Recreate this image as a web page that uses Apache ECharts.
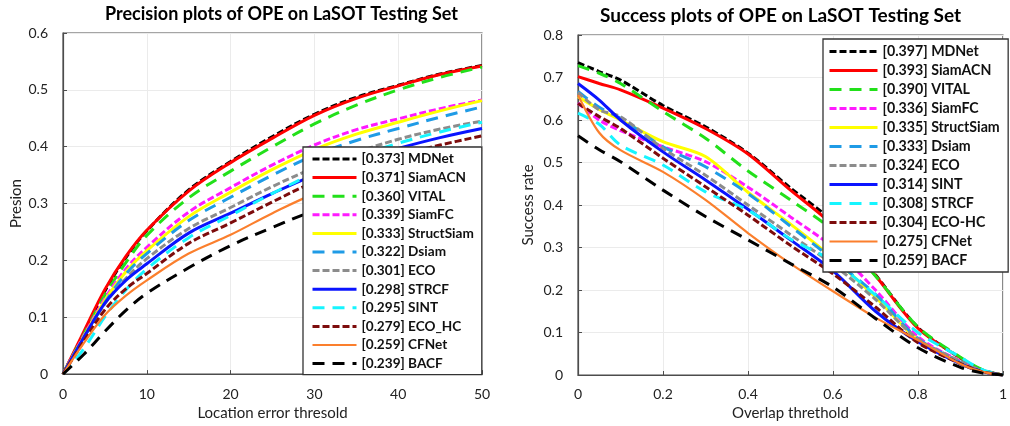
<!DOCTYPE html>
<html>
<head>
<meta charset="utf-8">
<script src="https://cdn.jsdelivr.net/npm/echarts@6/dist/echarts.min.js"></script>
<style>
html,body{margin:0;padding:0;background:#fff;}
#main{width:1010px;height:426px;}
</style>
</head>
<body>
<div id="main"></div>
<script>
// ---------- DATA ----------
var precisionX = [0, 2.5, 5, 7.5, 10, 15, 20, 25, 30, 35, 40, 45, 50];
var precisionXTicks = [0, 10, 20, 30, 40, 50];
var precisionYTicks = [0, 0.1, 0.2, 0.3, 0.4, 0.5, 0.6];

var precNames = ['MDNet', 'SiamACN', 'VITAL', 'SiamFC', 'StructSiam', 'Dsiam', 'ECO', 'STRCF', 'SINT', 'ECO_HC', 'CFNet', 'BACF'];
var precScores = ['0.373', '0.371', '0.360', '0.339', '0.333', '0.322', '0.301', '0.298', '0.295', '0.279', '0.259', '0.239'];

var precMDNet      = [0, 0.072, 0.146, 0.205, 0.252, 0.324, 0.374, 0.418, 0.457, 0.487, 0.508, 0.528, 0.543];
var precSiamACN    = [0, 0.075, 0.149, 0.207, 0.253, 0.322, 0.372, 0.415, 0.455, 0.485, 0.507, 0.527, 0.542];
var precVITAL      = [0, 0.070, 0.139, 0.196, 0.244, 0.310, 0.357, 0.400, 0.440, 0.473, 0.500, 0.522, 0.540];
var precSiamFC     = [0, 0.068, 0.133, 0.185, 0.223, 0.285, 0.328, 0.368, 0.403, 0.430, 0.449, 0.467, 0.482];
var precStructSiam = [0, 0.066, 0.130, 0.180, 0.217, 0.277, 0.320, 0.360, 0.395, 0.422, 0.443, 0.463, 0.481];
var precDsiam      = [0, 0.064, 0.126, 0.176, 0.212, 0.270, 0.311, 0.350, 0.385, 0.411, 0.432, 0.452, 0.470];
var precECO        = [0, 0.063, 0.124, 0.168, 0.203, 0.256, 0.293, 0.330, 0.363, 0.390, 0.413, 0.431, 0.445];
var precSTRCF      = [0, 0.065, 0.125, 0.165, 0.194, 0.248, 0.283, 0.318, 0.350, 0.376, 0.397, 0.416, 0.432];
var precSINT       = [0, 0.045, 0.101, 0.148, 0.185, 0.240, 0.279, 0.318, 0.353, 0.382, 0.406, 0.426, 0.443];
var precECO_HC     = [0, 0.058, 0.113, 0.150, 0.177, 0.230, 0.266, 0.303, 0.338, 0.364, 0.385, 0.403, 0.419];
var precCFNet      = [0, 0.055, 0.104, 0.138, 0.165, 0.212, 0.245, 0.283, 0.317, 0.340, 0.360, 0.379, 0.395];
var precBACF       = [0, 0.035, 0.075, 0.112, 0.142, 0.187, 0.226, 0.258, 0.287, 0.306, 0.322, 0.337, 0.350];

var successX = [0, 0.05, 0.1, 0.2, 0.3, 0.4, 0.5, 0.6, 0.7, 0.8, 0.9, 0.95, 1];
var successXTicks = [0, 0.2, 0.4, 0.6, 0.8, 1];
var successYTicks = [0, 0.1, 0.2, 0.3, 0.4, 0.5, 0.6, 0.7, 0.8];

var succNames = ['MDNet', 'SiamACN', 'VITAL', 'SiamFC', 'StructSiam', 'Dsiam', 'ECO', 'SINT', 'STRCF', 'ECO-HC', 'CFNet', 'BACF'];
var succScores = ['0.397', '0.393', '0.390', '0.336', '0.335', '0.333', '0.324', '0.314', '0.308', '0.304', '0.275', '0.259'];

var succMDNet      = [0.735, 0.714, 0.694, 0.634, 0.584, 0.522, 0.440, 0.360, 0.236, 0.112, 0.040, 0.012, 0];
var succSiamACN    = [0.702, 0.686, 0.671, 0.628, 0.580, 0.520, 0.435, 0.352, 0.234, 0.110, 0.040, 0.012, 0];
var succVITAL      = [0.728, 0.710, 0.686, 0.620, 0.557, 0.480, 0.412, 0.340, 0.233, 0.113, 0.042, 0.013, 0];
var succSiamFC     = [0.640, 0.600, 0.575, 0.537, 0.502, 0.442, 0.372, 0.300, 0.200, 0.090, 0.032, 0.010, 0];
var succStructSiam = [0.655, 0.625, 0.600, 0.549, 0.514, 0.430, 0.355, 0.275, 0.183, 0.083, 0.028, 0.009, 0];
var succDsiam      = [0.667, 0.630, 0.604, 0.537, 0.490, 0.427, 0.350, 0.272, 0.190, 0.086, 0.030, 0.010, 0];
var succECO        = [0.665, 0.624, 0.608, 0.533, 0.470, 0.400, 0.330, 0.260, 0.178, 0.085, 0.032, 0.010, 0];
var succSINT       = [0.686, 0.647, 0.600, 0.525, 0.459, 0.390, 0.318, 0.245, 0.150, 0.078, 0.026, 0.008, 0];
var succSTRCF      = [0.616, 0.590, 0.541, 0.494, 0.431, 0.388, 0.320, 0.268, 0.188, 0.100, 0.042, 0.013, 0];
var succECO_HC     = [0.639, 0.608, 0.580, 0.510, 0.443, 0.376, 0.305, 0.238, 0.160, 0.076, 0.027, 0.008, 0];
var succCFNet      = [0.659, 0.570, 0.529, 0.478, 0.412, 0.334, 0.262, 0.197, 0.135, 0.082, 0.026, 0.008, 0];
var succBACF       = [0.563, 0.530, 0.502, 0.435, 0.373, 0.318, 0.262, 0.207, 0.133, 0.064, 0.018, 0.005, 0];

// ---------- STYLES ----------
var SHORT = [7, 3], LONG = [12, 8];
var lineStyles = [
  {color:'#000000', type:SHORT, width:3},
  {color:'#ff0000', type:'solid', width:3},
  {color:'#22e01a', type:LONG, width:3},
  {color:'#ff1aff', type:SHORT, width:3},
  {color:'#ffff00', type:'solid', width:3},
  {color:'#1f9be6', type:LONG, width:3},
  {color:'#8c8c8c', type:SHORT, width:3},
  {color:'#0a14ff', type:'solid', width:3},
  {color:'#16f5ff', type:LONG, width:3},
  {color:'#7d0c0c', type:SHORT, width:3},
  {color:'#fb7f2d', type:'solid', width:2.2},
  {color:'#000000', type:LONG, width:3}
];

var precData = [precMDNet, precSiamACN, precVITAL, precSiamFC, precStructSiam, precDsiam, precECO, precSTRCF, precSINT, precECO_HC, precCFNet, precBACF];
var succData = [succMDNet, succSiamACN, succVITAL, succSiamFC, succStructSiam, succDsiam, succECO, succSINT, succSTRCF, succECO_HC, succCFNet, succBACF];

var FONT = 'Lato, "Open Sans", sans-serif';

function pairs(xs, ys) { return xs.map(function (x, i) { return [x, ys[i]]; }); }

var series = [];
var precLegend = [], succLegend = [];
precNames.forEach(function (n, i) {
  var name = '[' + precScores[i] + '] ' + n;
  precLegend.push(name);
  series.push({
    name: name, type: 'line', xAxisIndex: 0, yAxisIndex: 0,
    data: pairs(precisionX, precData[i]),
    smooth: 0.35, symbol: 'none', animation: false,
    lineStyle: {color: lineStyles[i].color, type: lineStyles[i].type, width: lineStyles[i].width},
    itemStyle: {color: lineStyles[i].color}
  });
});
succNames.forEach(function (n, i) {
  var name = '[' + succScores[i] + '] ' + n + ' ';
  succLegend.push(name);
  series.push({
    name: name, type: 'line', xAxisIndex: 1, yAxisIndex: 1,
    data: pairs(successX, succData[i]),
    smooth: 0.3, symbol: 'none', animation: false,
    lineStyle: {color: lineStyles[i].color, type: lineStyles[i].type, width: lineStyles[i].width},
    itemStyle: {color: lineStyles[i].color}
  });
});

function axisCommon() {
  return {
    axisLine: {show: true, onZero: false, lineStyle: {color: '#4d4d4d', width: 1.2}},
    axisTick: {show: true, inside: true, length: 4, lineStyle: {color: '#4d4d4d'}},
    splitLine: {show: true, lineStyle: {color: '#ebebeb', width: 1}},
    axisLabel: {color: '#222', fontFamily: FONT, fontSize: 14}
  };
}
var nameStyle = {color: '#222', fontFamily: FONT, fontSize: 15};

var xa0 = Object.assign(axisCommon(), {
  type: 'value', gridIndex: 0, min: precisionXTicks[0], max: precisionXTicks[precisionXTicks.length - 1], interval: 10,
  name: 'Location error thresold', nameLocation: 'middle', nameGap: 30, nameTextStyle: nameStyle
});
xa0.axisLabel.margin = 13;
var ya0 = Object.assign(axisCommon(), {
  type: 'value', gridIndex: 0, min: precisionYTicks[0], max: precisionYTicks[precisionYTicks.length - 1], interval: 0.1,
  name: 'Presion', nameLocation: 'middle', nameGap: 39, nameTextStyle: nameStyle
});
ya0.axisLabel.margin = 15;
var xa1 = Object.assign(axisCommon(), {
  type: 'value', gridIndex: 1, min: successXTicks[0], max: successXTicks[successXTicks.length - 1], interval: 0.2,
  name: 'Overlap threthold', nameLocation: 'middle', nameGap: 29, nameTextStyle: nameStyle
});
xa1.axisLabel.margin = 12;
var ya1 = Object.assign(axisCommon(), {
  type: 'value', gridIndex: 1, min: successYTicks[0], max: successYTicks[successYTicks.length - 1], interval: 0.1,
  name: 'Success rate', nameLocation: 'middle', nameGap: 42, nameTextStyle: nameStyle
});
ya1.axisLabel.margin = 15;

var legendCommon = {
  orient: 'vertical', backgroundColor: '#fff', borderColor: '#333', borderWidth: 1.3,
  itemWidth: 44, itemHeight: 12, selectedMode: false,
  itemStyle: {opacity: 0},
  lineStyle: {width: 'inherit'},
  textStyle: {fontFamily: FONT, fontWeight: 'bold', fontSize: 13.6, color: '#111', lineHeight: 14}
};

var option = {
  backgroundColor: '#fff',
  animation: false,
  title: [
    {text: 'Precision plots of OPE on LaSOT Testing Set', left: 105, top: 5, padding: 0,
     textStyle: {fontFamily: FONT, fontWeight: 'bold', fontSize: 18, color: '#000'}},
    {text: 'Success plots of OPE on LaSOT Testing Set', left: 600, top: 6, padding: 0,
     textStyle: {fontFamily: FONT, fontWeight: 'bold', fontSize: 19, color: '#000'}}
  ],
  grid: [
    {left: 63, right: 528, top: 33, bottom: 48, show: true, borderColor: '#4d4d4d', borderWidth: 1.2, backgroundColor: '#fff'},
    {left: 578, right: 1, top: 35, bottom: 51, show: true, borderColor: '#4d4d4d', borderWidth: 1.2, backgroundColor: '#fff'}
  ],
  xAxis: [xa0, xa1],
  yAxis: [ya0, ya1],
  legend: [
    Object.assign({}, legendCommon, {data: precLegend, left: 303, top: 147, itemGap: 4.6, padding: [5, 8, 4, 8]}),
    Object.assign({}, legendCommon, {data: succLegend, left: 823, top: 39, itemGap: 4.0, padding: [5, 5, 4, 5], itemWidth: 48,
      textStyle: {fontFamily: FONT, fontWeight: 'bold', fontSize: 14.2, color: '#111', lineHeight: 15}})
  ],
  series: series
};

var chart = echarts.init(document.getElementById('main'), null, {renderer: 'canvas'});
chart.setOption(option);
</script>
</body>
</html>
